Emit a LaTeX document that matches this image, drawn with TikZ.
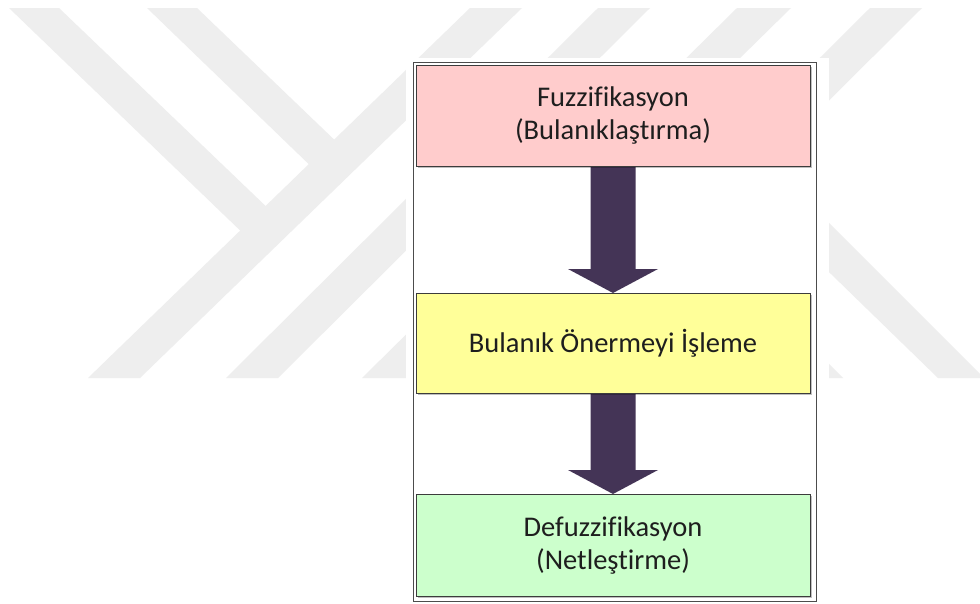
\documentclass[tikz,border=0pt]{standalone}
\usepackage{fontspec}
\setmainfont[Ligatures=NoCommon]{Carlito}
\usetikzlibrary{calc,shadows}
\definecolor{wm}{HTML}{EEEEEE}
\definecolor{pinkbox}{HTML}{FFCCCC}
\definecolor{yellowbox}{HTML}{FFFF99}
\definecolor{greenbox}{HTML}{CCFFCC}
\definecolor{arrowcol}{HTML}{443456}
\definecolor{edgecol}{HTML}{3C3C3C}
\definecolor{txtcol}{HTML}{1E1E1E}
\pgfdeclarelayer{bglayer}
\pgfdeclarelayer{midlayer}
\pgfsetlayers{bglayer,midlayer,main}
\newcommand\fatarrow[2]{%
  \fill[arrowcol] ($(#1.south)+(-22.5,0)$) -- ($(#1.south)+(22.5,0)$)
    -- ($(#2.north)+(22.5,-24)$) -- ($(#2.north)+(45,-24)$) -- (#2.north)
    -- ($(#2.north)+(-45,-24)$) -- ($(#2.north)+(-22.5,-24)$) -- cycle;}
\tikzset{
  stagebox/.style={draw=edgecol, line width=1pt, rectangle, inner sep=0pt, outer sep=0pt,
    minimum width=394pt, align=center, text=txtcol,
    font=\fontsize{28.5}{33}\selectfont,
    drop shadow={shadow xshift=1.5pt, shadow yshift=-1.5pt, opacity=0.25, fill=black}},
  framebox/.style={draw=black!70, line width=0.8pt, rectangle, inner sep=0pt, outer sep=0pt,
    minimum width=403pt, minimum height=539pt},
  wmark/.style={fill=wm}
}
\begin{document}
\begin{tikzpicture}[x=1pt,y=-1pt]
\useasboundingbox (0,0) rectangle (980,603);
\begin{pgfonlayer}{bglayer}
  \fill[white] (0,0) rectangle (980,603);
  % watermark
  \fill[wmark] (88,378) -- (140,378) -- (522,8) -- (470,8) -- cycle;
  \fill[wmark] (226,378) -- (278,378) -- (650,8) -- (598,8) -- cycle;
  \fill[wmark] (362,378) -- (414,378) -- (791,8) -- (737,8) -- cycle;
  \fill[wmark] (498,378) -- (550,378) -- (922,8) -- (870,8) -- cycle;
  \fill[wmark] (9,8) -- (59,8) -- (275,215) -- (250,240) -- cycle;
  \fill[wmark] (147,8) -- (197,8) -- (345,150) -- (320,175) -- cycle;
  \fill[wmark] (760,154) -- (984,378) -- (938,378) -- (760,205) -- cycle;
  \fill[wmark] (653,238) -- (703,238) -- (843,378) -- (790,378) -- cycle;
  % page area behind the figure
  \fill[white] (406,58) rectangle (829,603);
\end{pgfonlayer}
\node[framebox] (frame) at (614.5,331.5) {};
\node[stagebox, fill=pinkbox, minimum height=101pt] (fuzz) at (613,115.5)
  {Fuzzifikasyon\\(Bulanıklaştırma)};
\node[stagebox, fill=yellowbox, minimum height=100pt] (proc) at (613,343)
  {Bulanık Önermeyi İşleme};
\node[stagebox, fill=greenbox, minimum height=102pt] (defuzz) at (613,545)
  {Defuzzifikasyon\\(Netleştirme)};
\begin{pgfonlayer}{midlayer}
  \fatarrow{fuzz}{proc}
  \fatarrow{proc}{defuzz}
\end{pgfonlayer}
\end{tikzpicture}
\end{document}
